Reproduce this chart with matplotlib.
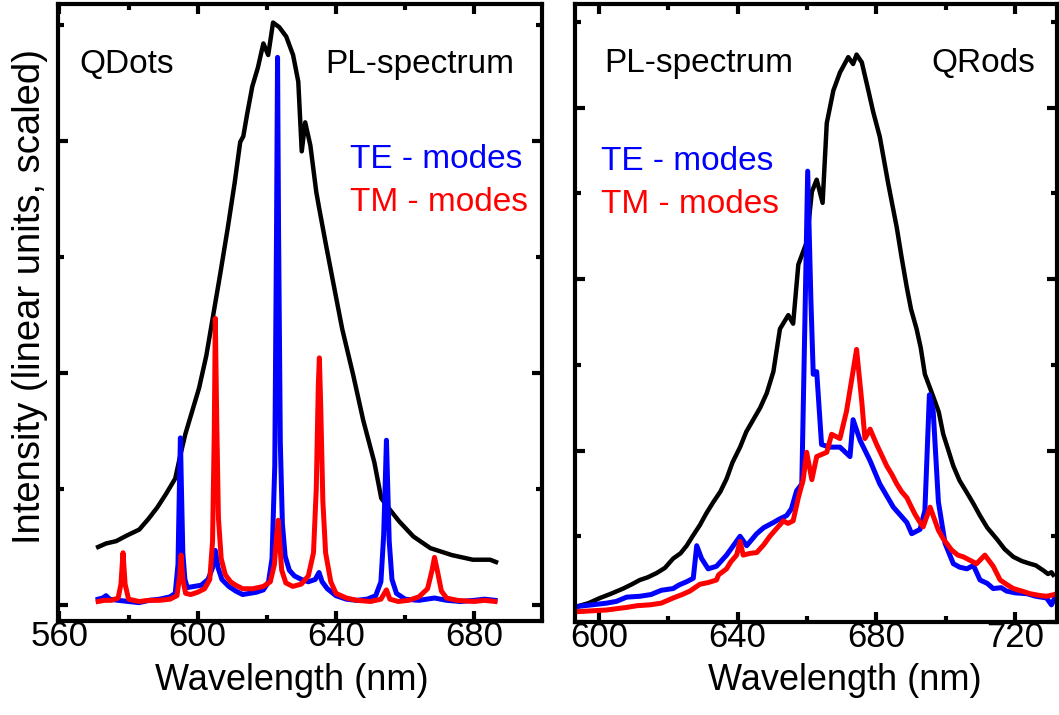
import matplotlib
matplotlib.use("Agg")
import matplotlib.pyplot as plt
from matplotlib.ticker import MultipleLocator

plt.rcParams['font.family'] = ['Liberation Sans', 'DejaVu Sans']

# ---- QDots panel (left) ----
qd_pl_wl = [571.2, 573.5, 576.4, 579.6, 583.1, 585.7, 588.3, 590.9, 593.5, 594.9,
            596.4, 598.4, 600.4, 602.5, 604.5, 606.5, 608.7, 610.7, 612.3, 613.2,
            614.3, 615.8, 617.4, 619.0, 620.4, 621.8, 623.6, 625.6, 627.6, 629.1,
            630.1, 631.1, 632.6, 634.3, 635.2, 637.2, 639.2, 641.8, 645.0, 647.9,
            651.1, 653.1, 655.1, 658.3, 662.4, 667.3, 673.5, 679.6, 684.6, 686.3]
qd_pl_int = [0.50, 0.53, 0.55, 0.60, 0.65, 0.74, 0.84, 0.96, 1.09, 1.28,
             1.47, 1.67, 1.87, 2.15, 2.50, 2.85, 3.25, 3.64, 3.99, 4.04,
             4.23, 4.47, 4.63, 4.84, 4.74, 5.02, 4.98, 4.90, 4.74, 4.51,
             3.91, 4.16, 3.96, 3.56, 3.41, 3.09, 2.78, 2.38, 1.98, 1.59,
             1.23, 0.92, 0.84, 0.72, 0.59, 0.49, 0.43, 0.39, 0.39, 0.37]

qd_te_wl = [571.2, 572.5, 573.5, 574.5, 577, 580, 583, 586, 589, 592,
            593.5, 594.3, 594.7, 595.0, 595.3, 595.7, 596.3, 597, 599, 601,
            603, 604.3, 605.1, 605.9, 607, 609, 611, 613, 615, 617,
            619, 620.5, 621.5, 622.3, 622.8, 623.1, 623.4, 623.9, 624.5, 625.3,
            626.5, 628, 630, 632, 634, 635.1, 636, 637.5, 640, 643,
            646, 649, 651.5, 653, 653.8, 654.3, 654.6, 654.9, 655.4, 656.2,
            657.5, 660, 664, 668.5, 672, 676, 680, 683, 686]
qd_te_int = [0.05, 0.06, 0.08, 0.05, 0.04, 0.03, 0.02, 0.04, 0.05, 0.07,
             0.10, 0.35, 1.00, 1.44, 1.00, 0.45, 0.22, 0.15, 0.16, 0.17,
             0.22, 0.32, 0.47, 0.32, 0.22, 0.16, 0.12, 0.09, 0.10, 0.11,
             0.13, 0.20, 0.40, 1.20, 3.20, 4.72, 3.20, 1.40, 0.70, 0.42,
             0.30, 0.25, 0.22, 0.20, 0.22, 0.28, 0.20, 0.14, 0.08, 0.05,
             0.04, 0.05, 0.08, 0.20, 0.60, 1.10, 1.42, 1.10, 0.55, 0.22,
             0.10, 0.05, 0.04, 0.06, 0.04, 0.03, 0.04, 0.05, 0.04]

qd_tm_wl = [571.2, 573, 575, 577, 577.8, 578.4, 579.0, 580, 583, 586,
            589, 592, 594, 594.8, 595.2, 595.7, 596.5, 598, 600, 602,
            603.5, 604.3, 604.8, 605.1, 605.5, 606, 606.8, 608, 609.5, 611,
            613, 616, 619, 621, 622.2, 622.9, 623.3, 623.7, 624.3, 625.5,
            627.5, 630, 632, 633.5, 634.3, 634.9, 635.2, 635.6, 636.2, 637,
            638.5, 640, 643, 646, 650, 653, 654.6, 655.6, 658, 661,
            664, 666.5, 667.8, 668.5, 669.3, 670.5, 672, 675, 680, 683, 686]
qd_tm_int = [0.03, 0.04, 0.04, 0.06, 0.18, 0.45, 0.18, 0.05, 0.03, 0.04,
             0.04, 0.05, 0.08, 0.25, 0.43, 0.22, 0.10, 0.09, 0.11, 0.14,
             0.22, 0.55, 1.50, 2.47, 1.60, 0.75, 0.40, 0.26, 0.20, 0.17,
             0.14, 0.14, 0.16, 0.20, 0.35, 0.62, 0.73, 0.55, 0.30, 0.19,
             0.16, 0.18, 0.25, 0.45, 1.00, 1.90, 2.13, 1.70, 0.90, 0.45,
             0.20, 0.10, 0.06, 0.04, 0.03, 0.05, 0.13, 0.05, 0.03, 0.04,
             0.07, 0.14, 0.30, 0.41, 0.30, 0.12, 0.06, 0.04, 0.03, 0.04, 0.03]

# ---- QRods panel (right) ----
qr_pl_wl = [593.6, 597.0, 600.3, 603.5, 607.0, 609.5, 611.8, 614.0, 616.6, 619.0,
            621.4, 623.5, 625.3, 627.0, 629.1, 631.0, 633.0, 635.0, 636.8, 638.5,
            640.7, 642.5, 644.5, 646.5, 648.4, 650.3, 652.2, 654.6, 656.0, 657.5,
            659.9, 661.4, 662.8, 664.5, 665.7, 667.6, 669.5, 671.9, 673.3, 674.3,
            675.8, 677.7, 679.1, 681.0, 683.4, 685.9, 687.3, 688.8, 690.0, 691.6,
            692.8, 694.0, 696.4, 698.0, 699.3, 700.8, 702.2, 704.0, 706.1, 708.0,
            709.9, 712.0, 714.7, 717.0, 719.5, 722.0, 724.3, 726.0, 728.2, 729.5,
            730.5, 731.0]
qr_pl_int = [0.18, 0.22, 0.28, 0.33, 0.39, 0.44, 0.49, 0.52, 0.57, 0.63,
             0.74, 0.80, 0.89, 1.00, 1.13, 1.27, 1.40, 1.52, 1.67, 1.86,
             2.04, 2.22, 2.36, 2.50, 2.67, 2.92, 3.42, 3.58, 3.48, 4.17,
             4.43, 5.02, 5.16, 4.89, 5.82, 6.20, 6.41, 6.59, 6.51, 6.62,
             6.53, 6.20, 5.95, 5.66, 5.12, 4.60, 4.25, 3.90, 3.65, 3.42,
             3.20, 2.89, 2.63, 2.45, 2.19, 2.00, 1.82, 1.65, 1.51, 1.38,
             1.24, 1.10, 0.97, 0.85, 0.76, 0.71, 0.68, 0.66, 0.60, 0.56,
             0.58, 0.55]

qr_te_wl = [593.6, 598.0, 602.2, 605.0, 608.0, 611.8, 615.0, 618.0, 621.4, 623.0,
            625.3, 627.2, 628.2, 629.6, 631.5, 633.9, 636.8, 640.7, 642.6, 645.5,
            647.5, 650.3, 652.0, 654.1, 655.5, 657.0, 658.5, 659.4, 660.2, 661.1,
            661.8, 662.8, 664.2, 666.6, 669.5, 672.4, 673.3, 675.3, 678.2, 681.0,
            684.9, 688.8, 690.2, 692.6, 694.0, 695.3, 696.4, 697.9, 699.8, 702.2,
            704.0, 706.1, 708.0, 709.9, 712.0, 713.7, 716.0, 717.6, 720.0, 723.4,
            726.0, 729.1, 730.5, 732.0]
qr_te_int = [0.18, 0.20, 0.22, 0.24, 0.29, 0.30, 0.32, 0.37, 0.39, 0.43,
             0.47, 0.51, 0.89, 0.74, 0.62, 0.65, 0.78, 1.00, 0.89, 1.03,
             1.10, 1.16, 1.20, 1.24, 1.32, 1.53, 1.61, 3.52, 5.26, 3.79,
             2.89, 2.92, 2.07, 2.04, 2.04, 1.93, 2.36, 2.12, 1.88, 1.61,
             1.34, 1.16, 1.03, 1.08, 1.30, 2.65, 2.46, 1.40, 0.92, 0.68,
             0.64, 0.62, 0.66, 0.49, 0.45, 0.39, 0.40, 0.36, 0.34, 0.33,
             0.30, 0.28, 0.20, 0.33]

qr_tm_wl = [593.6, 602.2, 608.0, 611.0, 614.7, 618.0, 621.4, 624.0, 626.2, 629.1,
            631.5, 633.9, 634.5, 636.8, 638.0, 639.7, 640.7, 641.6, 643.5, 645.5,
            647.5, 649.3, 651.0, 653.2, 654.5, 656.0, 657.5, 658.9, 659.9, 661.4,
            662.8, 665.7, 667.1, 669.5, 671.4, 672.9, 674.3, 675.8, 676.7, 678.2,
            680.1, 681.5, 683.0, 684.5, 685.9, 687.3, 688.8, 690.0, 691.1, 692.3,
            693.5, 695.5, 697.9, 699.3, 701.7, 703.5, 705.1, 707.0, 708.9, 711.3,
            713.7, 715.7, 717.5, 719.5, 722.0, 724.3, 727.0, 729.1, 732.4]
qr_tm_int = [0.12, 0.14, 0.17, 0.19, 0.20, 0.22, 0.28, 0.32, 0.36, 0.44,
             0.46, 0.49, 0.55, 0.62, 0.70, 0.78, 0.94, 0.78, 0.80, 0.81,
             0.90, 1.00, 1.08, 1.18, 1.15, 1.18, 1.45, 1.66, 1.98, 1.66,
             1.93, 1.98, 2.19, 2.14, 2.46, 2.83, 3.18, 2.57, 2.14, 2.25,
             2.07, 1.95, 1.82, 1.72, 1.61, 1.52, 1.45, 1.35, 1.26, 1.18,
             1.11, 1.34, 1.07, 0.97, 0.84, 0.78, 0.76, 0.72, 0.68, 0.78,
             0.65, 0.49, 0.44, 0.39, 0.36, 0.33, 0.31, 0.30, 0.33]

xticks_left = [560, 600, 640, 680]
xticks_right = [600, 640, 680, 720]


def style_axis(ax, xticks):
    for sp in ax.spines.values():
        sp.set_linewidth(3)
    ax.set_xticks(xticks)
    ax.xaxis.set_minor_locator(MultipleLocator(20))
    ax.yaxis.set_major_locator(MultipleLocator(2))
    ax.yaxis.set_minor_locator(MultipleLocator(1))
    ax.set_yticklabels([])
    ax.tick_params(which='both', direction='in', top=True, right=True, width=3)
    ax.tick_params(which='major', length=7.5, labelsize=25, pad=-1)
    ax.tick_params(which='minor', length=4)


fig = plt.figure(figsize=(10.59, 7.15), dpi=100)

ax1 = fig.add_axes([0.0548, 0.1315, 0.4570, 0.8629])
ax1.plot(qd_pl_wl, qd_pl_int, color='black', lw=3.2)
ax1.plot(qd_te_wl, qd_te_int, color='blue', lw=3.6)
ax1.plot(qd_tm_wl, qd_tm_int, color='red', lw=3.6)
ax1.set_xlim(559.6, 699.6)
ax1.set_ylim(-0.138, 5.18)
style_axis(ax1, xticks_left)
ax1.text(0.045, 0.888, 'QDots', transform=ax1.transAxes, fontsize=24, va='baseline')
ax1.text(0.942, 0.888, 'PL-spectrum', transform=ax1.transAxes, fontsize=24,
         va='baseline', ha='right')
ax1.text(0.603, 0.734, 'TE - modes', transform=ax1.transAxes, fontsize=24,
         va='baseline', color='blue')
ax1.text(0.603, 0.665, 'TM - modes', transform=ax1.transAxes, fontsize=24,
         va='baseline', color='red')

ax2 = fig.add_axes([0.5430, 0.1301, 0.4551, 0.8643])
ax2.plot(qr_pl_wl, qr_pl_int, color='black', lw=3.2)
ax2.plot(qr_te_wl, qr_te_int, color='blue', lw=3.6)
ax2.plot(qr_tm_wl, qr_tm_int, color='red', lw=3.6)
ax2.set_xlim(593.1, 732.1)
ax2.set_ylim(0, 7.21)
style_axis(ax2, xticks_right)
ax2.text(0.060, 0.890, 'PL-spectrum', transform=ax2.transAxes, fontsize=24, va='baseline')
ax2.text(0.954, 0.890, 'QRods', transform=ax2.transAxes, fontsize=24,
         va='baseline', ha='right')
ax2.text(0.054, 0.731, 'TE - modes', transform=ax2.transAxes, fontsize=24,
         va='baseline', color='blue')
ax2.text(0.054, 0.662, 'TM - modes', transform=ax2.transAxes, fontsize=24,
         va='baseline', color='red')

fig.text(30 / 1059, 1 - 297 / 715, 'Intensity (linear units, scaled)', rotation=90,
         fontsize=27.5, ha='center', va='center')
fig.text(292 / 1059, 1 - 681 / 715, 'Wavelength (nm)', fontsize=26, ha='center', va='center')
fig.text(845 / 1059, 1 - 681 / 715, 'Wavelength (nm)', fontsize=26, ha='center', va='center')

fig.savefig('out.png', dpi=100)
